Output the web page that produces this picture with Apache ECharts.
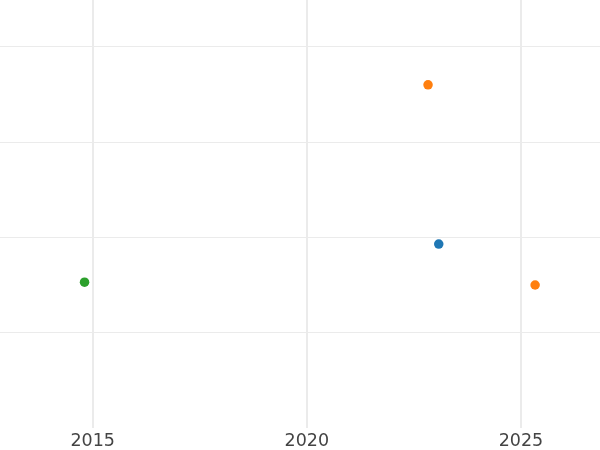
<!DOCTYPE html>
<html>
<head>
<meta charset="utf-8">
<script src="https://cdn.jsdelivr.net/npm/echarts@6/dist/echarts.min.js"></script>
<style>
  html, body { margin: 0; padding: 0; background: #fff; }
  #chart { width: 600px; height: 450px; }
</style>
</head>
<body>
<div id="chart"></div>
<script>
// values
var xTicks = [2015, 2020, 2025];
var yTicks = [1, 2, 3, 4];
var blueYears = [2023.08];
var blueValues = [1.93];
var orangeYears = [2022.83, 2025.33];
var orangeValues = [3.6, 1.5];
var greenYears = [2014.81];
var greenValues = [1.53];

function pairs(xs, ys) {
  var out = [];
  for (var i = 0; i < xs.length; i++) out.push([xs[i], ys[i]]);
  return out;
}

var chart = echarts.init(document.getElementById('chart'));
var option = {
  animation: false,
  grid: { left: 0, right: 0, top: 0, bottom: 22, containLabel: false },
  xAxis: {
    type: 'value',
    min: 2012.836,
    max: 2026.845,
    axisLine: { show: false },
    axisTick: { show: false, customValues: xTicks },
    axisLabel: {
      customValues: xTicks,
      formatter: function (v) { return String(v); },
      color: '#444',
      fontSize: 17.5,
      fontFamily: 'DejaVu Sans',
      margin: 4
    },
    splitLine: { show: true, lineStyle: { color: '#ebebeb', width: 2 } }
  },
  yAxis: {
    type: 'value',
    min: 0,
    max: 4.49,
    axisLine: { show: false },
    axisTick: { show: false, customValues: yTicks },
    axisLabel: { show: false, customValues: yTicks },
    splitLine: { show: true, lineStyle: { color: '#ebebeb', width: 1 } }
  },
  series: [
    { type: 'scatter', symbolSize: 9.5, itemStyle: { color: '#1f77b4', opacity: 1 }, data: pairs(blueYears, blueValues) },
    { type: 'scatter', symbolSize: 9.5, itemStyle: { color: '#ff7f0e', opacity: 1 }, data: pairs(orangeYears, orangeValues) },
    { type: 'scatter', symbolSize: 9.5, itemStyle: { color: '#2ca02c', opacity: 1 }, data: pairs(greenYears, greenValues) }
  ]
};
chart.setOption(option);
</script>
</body>
</html>
